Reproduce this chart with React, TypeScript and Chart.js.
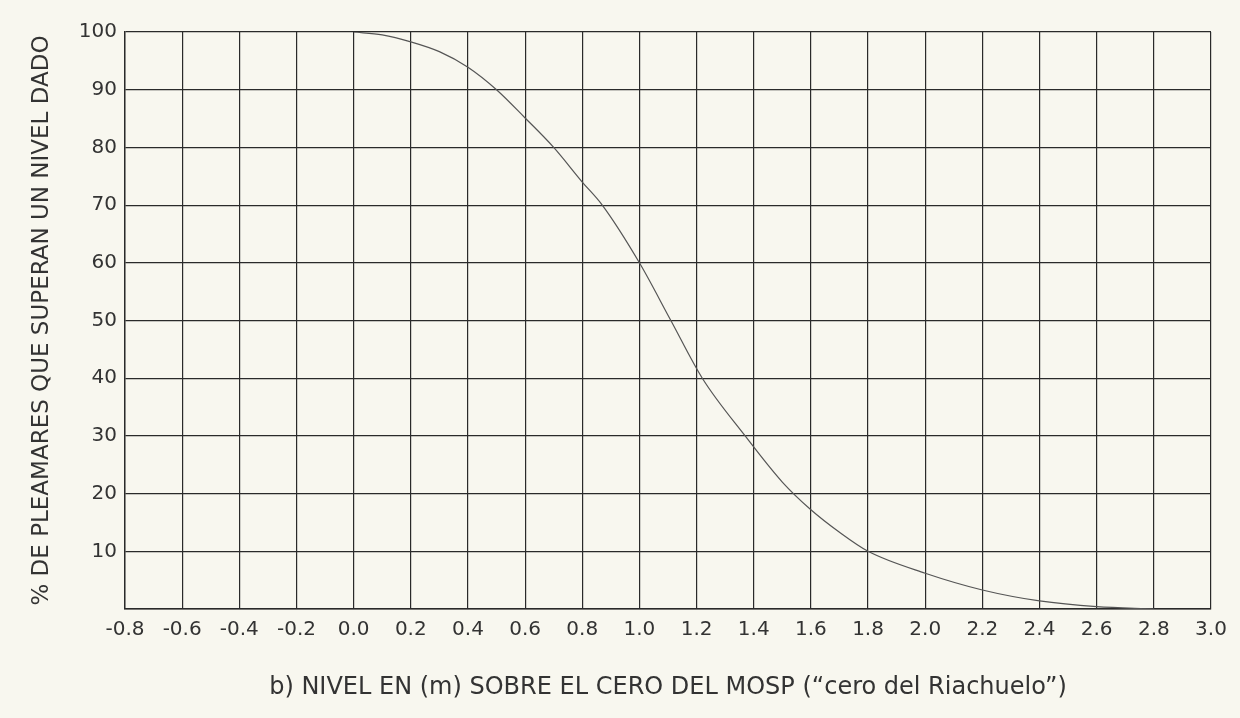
import React, { useEffect, useRef } from "react";
import { Chart, registerables } from "chart.js";

Chart.register(...registerables);

const levelsM = [0.0, 0.1, 0.2, 0.3, 0.4, 0.5, 0.6, 0.7, 0.8, 0.87, 1.0, 1.11, 1.22, 1.37, 1.5, 1.6, 1.7, 1.8, 2.0, 2.2, 2.4, 2.6, 2.8];
const percentExceeding = [100, 99.5, 98.3, 96.6, 93.9, 90, 85.1, 80, 74, 70, 60, 50, 40, 30, 22, 17.2, 13.3, 10, 6.2, 3.3, 1.4, 0.4, 0];

const xTitle = "b) NIVEL EN (m) SOBRE EL CERO DEL MOSP (\u201Ccero del Riachuelo\u201D)";
const yTitle = "% DE PLEAMARES QUE SUPERAN UN NIVEL DADO";

const FONT = "'DejaVu Sans', Verdana, sans-serif";

export default function App() {
  const ref = useRef<HTMLCanvasElement | null>(null);
  useEffect(() => {
    document.body.style.margin = "0";
    document.body.style.background = "#f8f7ef";
    const ctx = ref.current!.getContext("2d")!;
    const chart = new Chart(ctx, {
      type: "line",
      data: {
        datasets: [
          {
            data: levelsM.map((x, i) => ({ x, y: percentExceeding[i] })),
            borderColor: "#555555",
            borderWidth: 1.2,
            pointRadius: 0,
            cubicInterpolationMode: "monotone",
            fill: false,
          },
        ],
      },
      options: {
        responsive: false,
        animation: false,
        layout: { padding: { top: 32, right: 29, left: 0, bottom: 0 } },
        plugins: { legend: { display: false }, tooltip: { enabled: false } },
        scales: {
          x: {
            type: "linear",
            min: -0.8,
            max: 3.0,
            afterFit: (s: any) => {
              s.height = 109;
            },
            ticks: {
              stepSize: 0.2,
              padding: 9,
              color: "#333",
              font: { family: FONT, size: 20 },
              callback: (v: any) => {
                const n = Math.abs(Number(v)) < 1e-9 ? 0 : Number(v);
                return n.toFixed(1);
              },
              maxRotation: 0,
              autoSkip: false,
            },
            grid: { color: "#2a2a2a", lineWidth: 1.2, drawTicks: false },
            border: { color: "#2a2a2a", width: 1.4 },
            title: {
              display: true,
              text: xTitle,
              color: "#333",
              font: { family: FONT, size: 24 },
              padding: { top: 30, bottom: 16 },
            },
          },
          y: {
            type: "linear",
            min: 0,
            max: 100,
            afterFit: (s: any) => {
              s.width = 125;
            },
            ticks: {
              stepSize: 10,
              padding: 8,
              color: "#333",
              font: { family: FONT, size: 20 },
              callback: (v: any) => (Number(v) === 0 ? "" : String(v)),
            },
            grid: { color: "#2a2a2a", lineWidth: 1.2, drawTicks: false },
            border: { color: "#2a2a2a", width: 1.4 },
            title: {
              display: true,
              text: yTitle,
              color: "#333",
              font: { family: FONT, size: 23 },
              padding: { top: 28, bottom: 0 },
            },
          },
        },
      },
    });
    return () => chart.destroy();
  }, []);
  return (
    <div style={{ position: "fixed", left: 0, top: 0, width: 1240, height: 718, background: "#f8f7ef" }}>
      <canvas ref={ref} width={1240} height={718} style={{ width: 1240, height: 718, display: "block" }} />
    </div>
  );
}
